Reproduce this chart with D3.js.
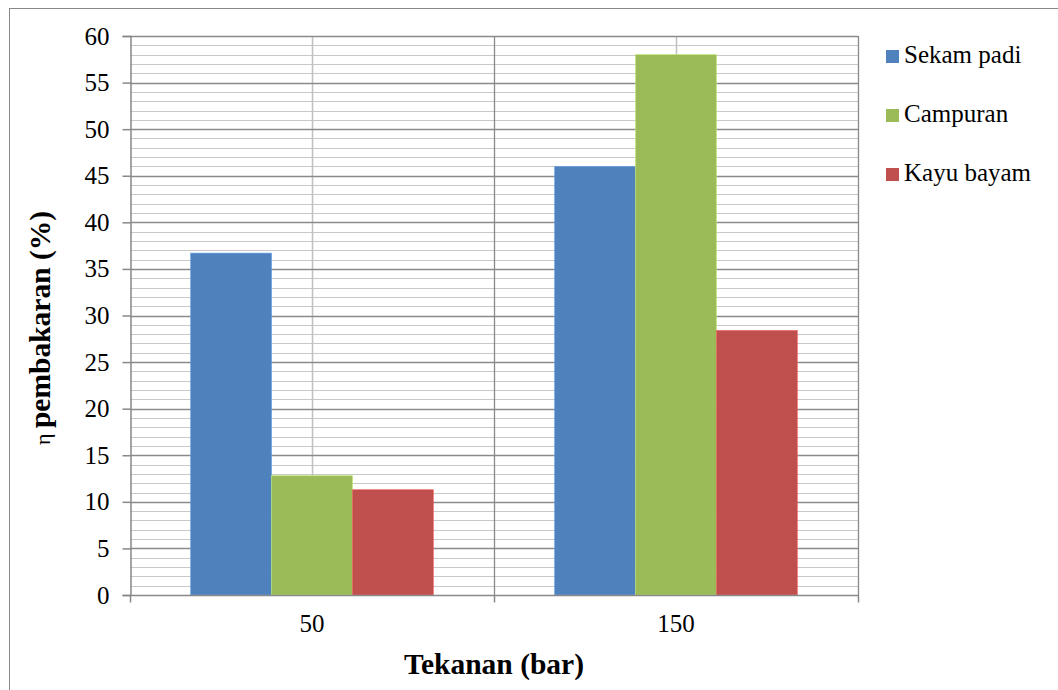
<!DOCTYPE html>
<html><head><meta charset="utf-8">
<script src="https://cdn.jsdelivr.net/npm/d3@7"></script>
<style>body{margin:0;background:#fff}svg{display:block}</style>
</head><body><svg id="c" width="1058" height="690" font-family="Liberation Serif"></svg>
<script>
const categories = ["50", "150"];
const seriesNames = ["Sekam padi", "Campuran", "Kayu bayam"];
const sekamPadi = [36.7, 46.0];
const campuran = [12.8, 58.0];
const kayuBayam = [11.3, 28.4];
const colors = ["#4F81BD", "#9BBB59", "#C0504D"];
const yTicks = [0,5,10,15,20,25,30,35,40,45,50,55,60];
const seriesValues = [sekamPadi, campuran, kayuBayam];
const FONT = "Liberation Serif";

const svg = d3.select("#c");
const L = 130, R = 858, T = 36, B = 595;

svg.append("rect").attr("x", 9.5).attr("y", 8.5).attr("width", 1100).attr("height", 800)
  .attr("fill", "none").attr("stroke", "#888").attr("stroke-width", 1);

const y = d3.scaleLinear().domain([0, 60]).range([B, T]);
const x0 = d3.scaleBand().domain(categories).range([L, R]).padding(0);
const gap = x0.bandwidth() * 1.5 / 4.5 / 2;
const x1 = d3.scaleBand().domain(seriesNames).range([gap, x0.bandwidth() - gap]).padding(0);

const minor = d3.range(0, 61, 1).filter(v => v % 5 !== 0);
svg.append("g").selectAll("line").data(minor).join("line")
  .attr("x1", L).attr("x2", R).attr("y1", d => Math.round(y(d)) + 0.5).attr("y2", d => Math.round(y(d)) + 0.5)
  .attr("stroke", "#c8c8c8").attr("stroke-width", 1.2);
svg.append("g").selectAll("line").data(categories).join("line")
  .attr("x1", d => Math.round(x0(d) + x0.bandwidth()/2) + 0.5).attr("x2", d => Math.round(x0(d) + x0.bandwidth()/2) + 0.5)
  .attr("y1", T).attr("y2", B).attr("stroke", "#c0c0c0").attr("stroke-width", 1.5);
svg.append("g").selectAll("line").data(yTicks.filter(v => v > 0)).join("line")
  .attr("x1", L).attr("x2", R).attr("y1", d => Math.round(y(d)) + 0.5).attr("y2", d => Math.round(y(d)) + 0.5)
  .attr("stroke", "#8a8a8a").attr("stroke-width", 1.3);
const bounds = [x0(categories[1]), R];
svg.append("g").selectAll("line").data(bounds).join("line")
  .attr("x1", d => Math.round(d) + 0.5).attr("x2", d => Math.round(d) + 0.5)
  .attr("y1", T).attr("y2", B).attr("stroke", "#8a8a8a").attr("stroke-width", 1.3);

const g = svg.append("g");
seriesValues.forEach((vals, si) => {
  g.append("g").selectAll("rect").data(vals).join("rect")
    .attr("x", (d, i) => x0(categories[i]) + x1(seriesNames[si]))
    .attr("width", x1.bandwidth())
    .attr("y", d => y(d)).attr("height", d => B - y(d))
    .attr("fill", colors[si]).attr("stroke", d3.color(colors[si]).brighter(0.6)).attr("stroke-width", 0.6);
});

const yAxis = d3.axisLeft(y).tickValues(yTicks).tickSize(8).tickPadding(13);
const ya = svg.append("g").attr("transform", `translate(${L + 0.5},0)`).call(yAxis)
  .attr("font-family", FONT).attr("font-size", 25);
ya.select(".domain").attr("stroke", "#888").attr("stroke-width", 1.5);
ya.selectAll(".tick line").attr("stroke", "#888").attr("stroke-width", 1.5);
ya.selectAll(".tick text").attr("fill", "#000");

const xa = svg.append("g").attr("transform", `translate(0,${B + 0.5})`);
xa.append("line").attr("x1", L).attr("x2", R + 1).attr("stroke", "#888").attr("stroke-width", 1.5);
xa.selectAll("line.t").data([L, x0(categories[1]), R]).join("line").attr("class", "t")
  .attr("x1", d => d + 0.5).attr("x2", d => d + 0.5).attr("y1", 0).attr("y2", 7)
  .attr("stroke", "#888").attr("stroke-width", 1.5);
xa.selectAll("text").data(categories).join("text")
  .attr("x", d => x0(d) + x0.bandwidth()/2).attr("y", 36.5).attr("text-anchor", "middle")
  .attr("font-family", FONT).attr("font-size", 25).text(d => d);

svg.append("text").attr("x", (L + R)/2).attr("y", 674).attr("text-anchor", "middle")
  .attr("font-family", FONT).attr("font-size", 29.5).attr("font-weight", "bold").text("Tekanan (bar)");
const yt = svg.append("text").attr("transform", `translate(50,328) rotate(-90)`).attr("text-anchor", "middle")
  .attr("font-family", FONT).attr("font-size", 29.5).attr("font-weight", "bold");
yt.append("tspan").attr("font-weight", "normal").attr("font-size", 22).text("η ");
yt.append("tspan").text("pembakaran (%)");

const lg = svg.append("g").attr("transform", "translate(886,50)");
seriesNames.forEach((n, i) => {
  const r = lg.append("g").attr("transform", `translate(0,${i * 59})`);
  r.append("rect").attr("width", 13).attr("height", 13).attr("fill", colors[i]);
  r.append("text").attr("x", 18).attr("y", 13).attr("font-family", FONT).attr("font-size", 25).text(n);
});
</script></body></html>
